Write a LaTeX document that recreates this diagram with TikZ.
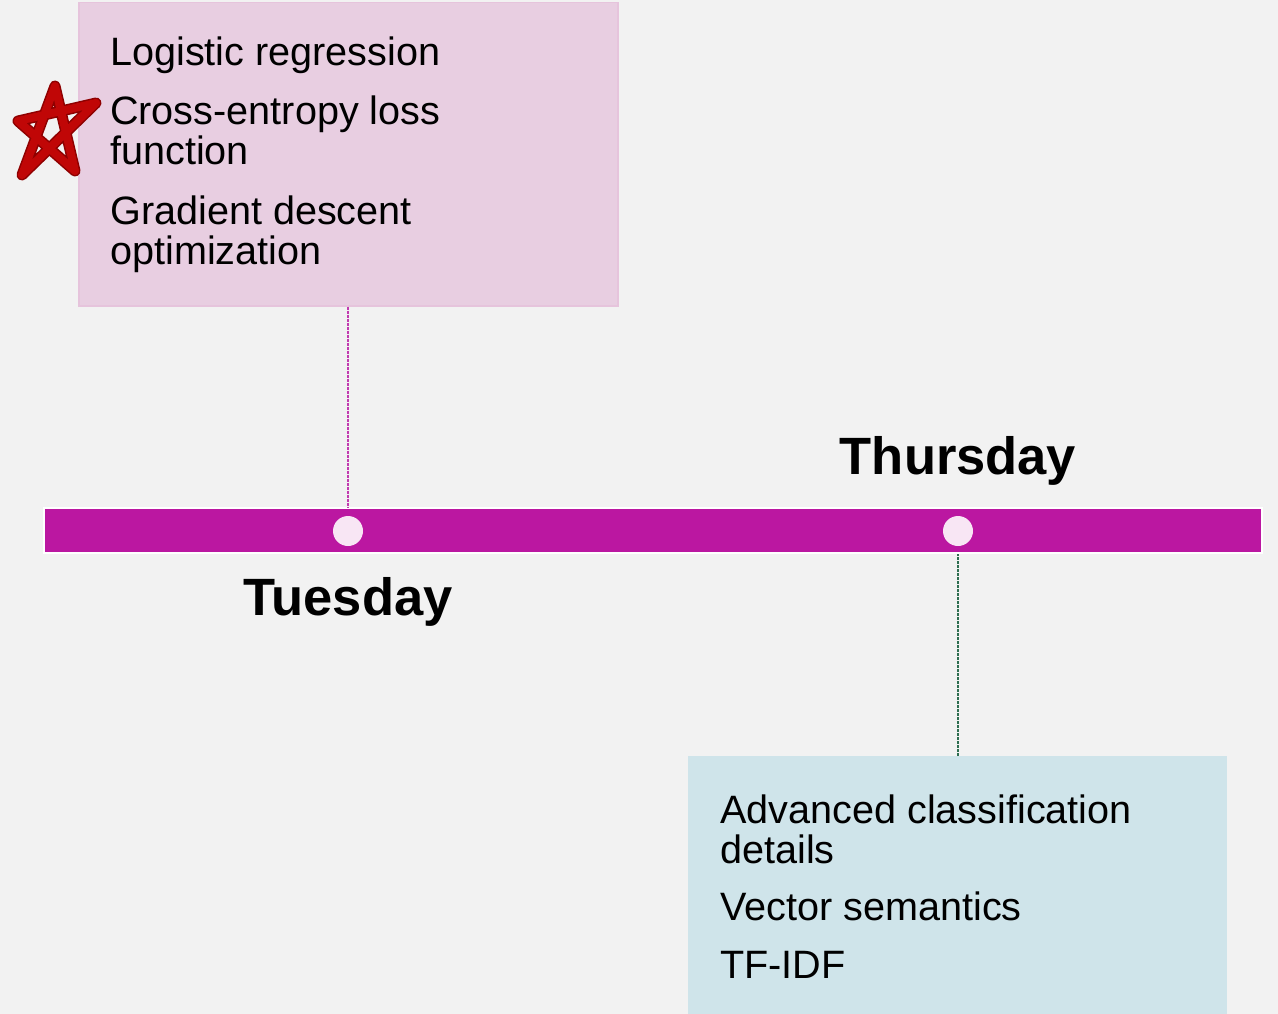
\documentclass[tikz,border=0pt]{standalone}
\usepackage{fontspec}
\setmainfont{Liberation Sans}
\usepackage{xcolor}
\definecolor{tlBack}{HTML}{F2F2F2}
\definecolor{tlBar}{HTML}{BB17A1}
\definecolor{tlDot}{HTML}{F8E6F4}
\definecolor{tlPink}{HTML}{E8CEE1}
\definecolor{tlPinkEdge}{HTML}{E6C4DC}
\definecolor{tlBlue}{HTML}{CFE4EA}
\definecolor{tlPinkLine}{HTML}{C23BB0}
\definecolor{tlGreenLine}{HTML}{2E6E50}
\definecolor{tlStar}{HTML}{C00606}
\definecolor{tlStarDark}{HTML}{8E0000}

\begin{document}
\begin{tikzpicture}[x=1pt, y=-1pt,
  topicbox/.style={rectangle, inner sep=0, minimum width=539, anchor=north west},
  topictext/.style={anchor=base west, align=left, inner sep=0, font=\fontsize{39.6}{40}\selectfont},
  daylabel/.style={anchor=base, inner sep=0, font=\fontsize{52.5}{56}\selectfont\bfseries},
  daydot/.style={circle, fill=tlDot, inner sep=0, minimum size=30},
  stem/.style={line width=2.4pt, dash pattern=on 3pt off 1pt}]
  \fill[tlBack] (0,0) rectangle (1278,1014);
  \useasboundingbox (0,0) rectangle (1278,1014);

  % timeline
  \node[rectangle, draw=white, line width=2.5pt, fill=tlBar, inner sep=0,
        minimum width=1218, minimum height=45] (bar) at (653,530.5) {};
  \node[daydot] (tue) at (348,531) {};
  \node[daydot] (thu) at (958,531) {};
  \node[daylabel] (tuelabel) at (348,615) {Tuesday};
  \node[daylabel] (thulabel) at (958,474) {Thursday};

  % Tuesday topics (anchored at the last baseline)
  \node[topicbox, fill=tlPink, draw=tlPinkEdge, line width=1.5pt, minimum height=303] (tuebox) at (78,2) {};
  \node[topictext] (tuetext) at (110,264) {Logistic regression\\[19.5pt]Cross-entropy loss\\function\\[19.5pt]Gradient descent\\optimization};
  \draw[stem, tlPinkLine] (tuebox.south) -- (tuebox.south |- bar.north);

  % Thursday topics
  \node[topicbox, fill=tlBlue, minimum height=270] (thubox) at (688,756) {};
  \node[topictext] (thutext) at (720,978) {Advanced classification\\details\\[17pt]Vector semantics\\[18pt]TF-IDF};
  \draw[stem, tlGreenLine] (thubox.north) -- (thubox.north |- bar.south);

  % hand drawn star
  \draw[tlStarDark, line width=11pt, line cap=round, line join=round]
    (22,175) -- (55,86) -- (75,171) -- (18,121) -- (96,103) -- cycle;
  \draw[tlStar, line width=8pt, line cap=round, line join=round]
    (22,175) -- (55,86) -- (75,171) -- (18,121) -- (96,103) -- cycle;
\end{tikzpicture}
\end{document}
